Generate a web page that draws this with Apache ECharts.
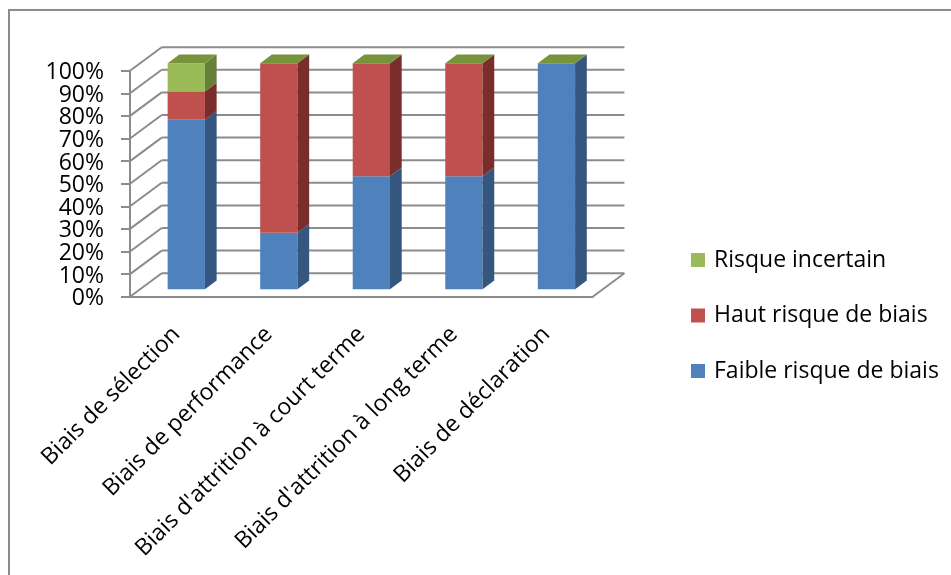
<!DOCTYPE html>
<html>
<head>
<meta charset="utf-8">
<script src="https://cdn.jsdelivr.net/npm/echarts@6/dist/echarts.min.js"></script>
<style>
  html, body { margin: 0; padding: 0; background: #fff; }
  #chart { width: 951px; height: 575px; }
</style>
</head>
<body>
<div id="chart"></div>
<script>
// Risk-of-bias assessment, share of studies per domain (%)
const categories = [
  'Biais de sélection',
  'Biais de performance',
  "Biais d'attrition à court terme",
  "Biais d'attrition à long terme",
  'Biais de déclaration'
];
const faibleRisque = [75, 25, 50, 50, 100];
const hautRisque = [12.5, 75, 50, 50, 0];
const risqueIncertain = [12.5, 0, 0, 0, 0];
const yTickValues = [0, 10, 20, 30, 40, 50, 60, 70, 80, 90, 100];

// Oblique projection of the chart depth (pixels per full depth)
const DEPTH_X = 31.7;
const DEPTH_Y = -23.5;
// Bars occupy the middle of the depth
const BAR_FRONT = 0.316;
const BAR_BACK = 0.685;
const BAR_RATIO = 0.403;
const GRID_COLOR = '#8c8c8c';
const FONT = 'Open Sans';
const LABEL_SIZE = 23;

const seriesDefs = [
  { name: 'Faible risque de biais', values: faibleRisque, front: '#4F81BD', side: '#34567F', top: '#4F81BD' },
  { name: 'Haut risque de biais', values: hautRisque, front: '#C0504D', side: '#7A2E2C', top: '#C0504D' },
  { name: 'Risque incertain', values: risqueIncertain, front: '#9BBB59', side: '#66803A', top: '#77933C' }
];

// Stack the series: each item is [category index, base, base + value]
const bases = categories.map(() => 0);
const stacked = seriesDefs.map(def => def.values.map((v, i) => {
  const item = [i, bases[i], bases[i] + v];
  bases[i] += v;
  return item;
}));

function barRenderer(def, isTop) {
  return function (params, api) {
    const i = api.value(0), lo = api.value(1), hi = api.value(2);
    const pLo = api.coord([i, lo]);
    const pHi = api.coord([i, hi]);
    const bw = api.size([1, 0])[0] * BAR_RATIO;
    const xl = pLo[0] - bw / 2 + BAR_FRONT * DEPTH_X;
    const xr = xl + bw;
    const yb = pLo[1] + BAR_FRONT * DEPTH_Y;
    const yt = pHi[1] + BAR_FRONT * DEPTH_Y;
    const dx = (BAR_BACK - BAR_FRONT) * DEPTH_X;
    const dy = (BAR_BACK - BAR_FRONT) * DEPTH_Y;
    const children = [];
    if (hi > lo) {
      children.push({
        type: 'rect',
        shape: { x: xl, y: yt, width: bw, height: yb - yt },
        style: { fill: def.front }
      });
      children.push({
        type: 'polygon',
        shape: { points: [[xr, yt], [xr + dx, yt + dy], [xr + dx, yb + dy], [xr, yb]] },
        style: { fill: def.side }
      });
    }
    if (isTop) {
      children.push({
        type: 'polygon',
        shape: { points: [[xl, yt], [xr, yt], [xr + dx, yt + dy], [xl + dx, yt + dy]] },
        style: { fill: def.top }
      });
    }
    return { type: 'group', children: children };
  };
}

// Back wall, side wall and floor lines of the 3D box, with the percentage labels
function wallRenderer(params, api) {
  const cs = params.coordSys;
  const v = api.value(0);
  const y = api.coord([0, v])[1];
  const x0 = cs.x, x1 = cs.x + cs.width;
  const children = [
    { type: 'line', shape: { x1: x0, y1: y, x2: x0 + DEPTH_X, y2: y + DEPTH_Y },
      style: { stroke: GRID_COLOR, lineWidth: 2 } },
    { type: 'line', shape: { x1: x0 + DEPTH_X, y1: y + DEPTH_Y, x2: x1 + DEPTH_X, y2: y + DEPTH_Y },
      style: { stroke: GRID_COLOR, lineWidth: 2 } },
    { type: 'text', x: x0 - 26, y: y + 2,
      style: { text: v + '%', fill: '#000', font: LABEL_SIZE + 'px "' + FONT + '"',
               align: 'right', verticalAlign: 'middle' } }
  ];
  if (v === 0) {
    children.push({ type: 'line', shape: { x1: x1, y1: y, x2: x1 + DEPTH_X, y2: y + DEPTH_Y },
      style: { stroke: GRID_COLOR, lineWidth: 2 } });
  }
  return { type: 'group', children: children };
}

const chart = echarts.init(document.getElementById('chart'), null, { renderer: 'canvas' });

const series = [{
  type: 'custom',
  name: 'walls',
  silent: true,
  clip: false,
  data: yTickValues.map(v => [v]),
  encode: { y: 0 },
  renderItem: wallRenderer,
  z: 1
}];
seriesDefs.forEach((def, k) => {
  series.push({
    type: 'custom',
    name: def.name,
    clip: false,
    itemStyle: { color: def.front },
    data: stacked[k],
    encode: { x: 0, y: [1, 2] },
    renderItem: barRenderer(def, k === seriesDefs.length - 1),
    z: 2
  });
});

chart.setOption({
  animation: false,
  textStyle: { fontFamily: FONT },
  graphic: [{
    type: 'rect',
    shape: { x: 9, y: 10, width: 1200, height: 1000 },
    style: { fill: 'none', stroke: GRID_COLOR, lineWidth: 2 },
    silent: true
  }],
  grid: { left: 130, top: 70.7, right: 358.3, bottom: 278.3 },
  legend: {
    orient: 'vertical',
    left: 686,
    top: 241,
    icon: 'rect',
    itemWidth: 14,
    itemHeight: 14,
    itemGap: 27.5,
    data: ['Risque incertain', 'Haut risque de biais', 'Faible risque de biais'],
    textStyle: { fontFamily: FONT, fontSize: LABEL_SIZE, color: '#000', lineHeight: 28, padding: [0, 0, 0, 4] }
  },
  xAxis: {
    type: 'category',
    data: categories,
    axisLine: { lineStyle: { color: GRID_COLOR, width: 2 } },
    axisTick: { length: 9, lineStyle: { color: GRID_COLOR, width: 2 } },
    axisLabel: {
      rotate: 45,
      interval: 0,
      margin: 34,
      fontFamily: FONT,
      fontSize: LABEL_SIZE,
      color: '#000'
    },
    splitLine: { show: false }
  },
  yAxis: {
    type: 'value',
    min: 0,
    max: 100,
    interval: 10,
    axisLine: { show: true, lineStyle: { color: GRID_COLOR, width: 2 } },
    axisTick: { show: true, length: 9, lineStyle: { color: GRID_COLOR, width: 2 } },
    axisLabel: { show: false },
    splitLine: { show: false }
  },
  series: series
});
</script>
</body>
</html>
